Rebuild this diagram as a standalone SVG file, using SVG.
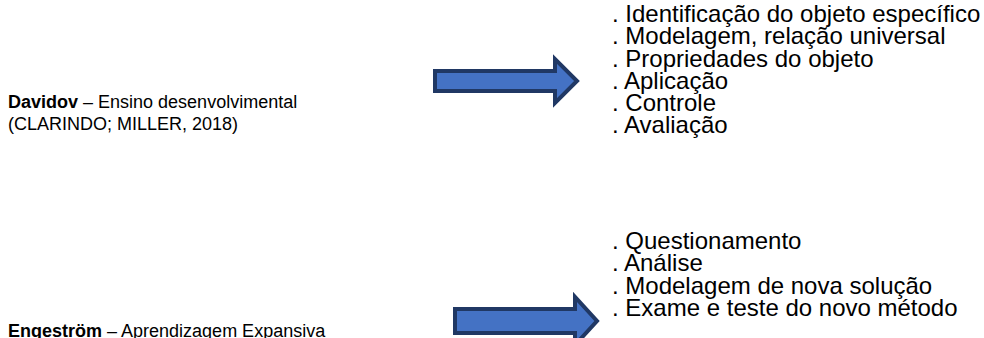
<svg xmlns="http://www.w3.org/2000/svg" width="984" height="338" viewBox="0 0 984 338">
<style>
text{font-family:"Liberation Sans",Arial,sans-serif;fill:#000}
.l{font-size:18px}
.r{font-size:24px}
.b{font-weight:bold}
.arrow{fill:#4472C4;stroke:#203864;stroke-width:4;stroke-linejoin:miter}
</style>
<rect width="984" height="338" fill="#fff"/>
<g id="davidov">
<text class="l" x="8" y="108"><tspan class="b">Davidov</tspan> – Ensino desenvolvimental</text>
<text class="l" x="8" y="130">(CLARINDO; MILLER, 2018)</text>
</g>
<g id="davidov-steps">
<text class="r" x="612" y="22">. Identificação do objeto específico</text>
<text class="r" x="612" y="44">. Modelagem, relação universal</text>
<text class="r" x="612" y="66.5">. Propriedades do objeto</text>
<text class="r" x="612" y="89">. Aplicação</text>
<text class="r" x="612" y="111">. Controle</text>
<text class="r" x="612" y="133">. Avaliação</text>
</g>
<g id="engestrom">
<text class="l" x="8" y="337"><tspan class="b">Engeström</tspan> – Aprendizagem Expansiva</text>
</g>
<g id="engestrom-steps">
<text class="r" x="612" y="248.5">. Questionamento</text>
<text class="r" x="612" y="271">. Análise</text>
<text class="r" x="612" y="293.5">. Modelagem de nova solução</text>
<text class="r" x="612" y="316">. Exame e teste do novo método</text>
</g>
<g id="connectors">
<path class="arrow" d="M435,71 H555 V59 L577,81 L555,103 V91 H435 Z"/>
<path class="arrow" d="M455,309 H575 V297 L597,321 L575,345 V333 H455 Z"/>
</g>
</svg>
